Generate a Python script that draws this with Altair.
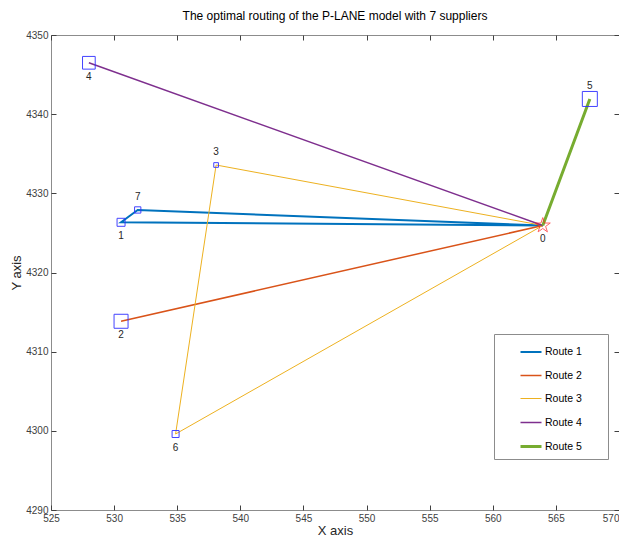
import altair as alt
import pandas as pd

# ---- data ----
node_ids = [0, 1, 2, 3, 4, 5, 6, 7]
node_x = [563.96, 530.55, 530.55, 538.08, 528.00, 567.69, 534.87, 531.87]
node_y = [4325.94, 4326.34, 4313.84, 4333.58, 4346.49, 4341.92, 4299.60, 4327.90]
supplier_demand = [8, 14, 4.7, 12.7, 15, 7, 6.3]   # suppliers 1..7 (marker size)
labels_above = [3, 5, 7]

route_names = ["Route 1", "Route 2", "Route 3", "Route 4", "Route 5"]
route_paths = [[0, 1, 7, 0], [0, 2, 0], [0, 3, 6, 0], [0, 4, 0], [0, 5, 0]]
route_colors = ["#0072BD", "#D95319", "#EDB120", "#7E2F8E", "#77AC30"]
route_widths = [2, 1.5, 1, 1.5, 3]

x_ticks = list(range(525, 571, 5))
y_ticks = list(range(4290, 4351, 10))

FONT = "Liberation Sans"
STAR = ("M0,-1L0.225,-0.309L0.951,-0.309L0.363,0.118L0.588,0.809L0,0.382"
        "L-0.588,0.809L-0.363,0.118L-0.951,-0.309L-0.225,-0.309Z")

# ---- tables ----
rows = []
for name, path in zip(route_names, route_paths):
    for step, n in enumerate(path):
        rows.append({"route": name, "step": step, "node": n,
                     "x": node_x[n], "y": node_y[n]})
routes_df = pd.DataFrame(rows)

nodes_df = pd.DataFrame({"node": node_ids, "x": node_x, "y": node_y})
nodes_df["above"] = nodes_df["node"].isin(labels_above)
suppliers_df = nodes_df[nodes_df["node"] > 0].copy()
suppliers_df["demand"] = supplier_demand
depot_df = nodes_df[nodes_df["node"] == 0]

xscale = alt.Scale(domain=[525, 570], nice=False, zero=False)
yscale = alt.Scale(domain=[4290, 4350], nice=False, zero=False)

common_axis = dict(grid=False, domain=False, offset=-5, tickSize=5, format="d",
                   tickColor="#404040", labelFont=FONT, labelFontSize=10,
                   labelColor="#404040", titleFont=FONT, titleFontSize=13,
                   titleFontWeight="normal", titleColor="#262626",
                   labelOverlap=False, labelFlush=False)

x_axis = alt.Axis(values=x_ticks, orient="bottom", title="X axis",
                  labelPadding=3, titlePadding=1,
                  labelAlign={"condition": {"test": f"datum.value >= {x_ticks[-1]}",
                                            "value": "right"},
                              "value": "center"},
                  **common_axis)
y_axis = alt.Axis(values=y_ticks, orient="left", title="Y axis",
                  labelPadding=3, titlePadding=2.5, **common_axis)
x_top = alt.Axis(values=x_ticks, orient="top", labels=False, title=None,
                 grid=False, domain=False, offset=-5, tickSize=5, tickColor="#404040")
y_right = alt.Axis(values=y_ticks, orient="right", labels=False, title=None,
                   grid=False, domain=False, offset=-5, tickSize=5, tickColor="#404040")

legend_def = alt.Legend(labelExpr="datum.label + '\u2003\u2002\u2004\u200b'")

lines = alt.Chart(routes_df).mark_line().encode(
    x=alt.X("x:Q", scale=xscale, axis=x_axis),
    y=alt.Y("y:Q", scale=yscale, axis=y_axis),
    color=alt.Color("route:N", scale=alt.Scale(domain=route_names, range=route_colors),
                    title=None, legend=legend_def),
    strokeWidth=alt.StrokeWidth("route:N",
                                scale=alt.Scale(type="ordinal", domain=route_names,
                                                range=route_widths),
                                title=None, legend=legend_def),
    detail="route:N",
    order="step:Q",
)

squares = alt.Chart(suppliers_df).mark_point(
    shape="square", filled=False, color="#3030ff", strokeWidth=1, opacity=0.9
).encode(
    x=alt.X("x:Q", scale=xscale, axis=None),
    y=alt.Y("y:Q", scale=yscale, axis=None),
    size=alt.Size("demand:Q", scale=alt.Scale(type="pow", exponent=2,
                                              domain=[0, 15], range=[0, 225]),
                  legend=None),
)

depot = alt.Chart(depot_df).mark_point(
    shape=STAR, filled=False, color="#ff2020", strokeWidth=1, size=250
).encode(
    x=alt.X("x:Q", scale=xscale, axis=x_top),
    y=alt.Y("y:Q", scale=yscale, axis=y_right),
)

text_below = alt.Chart(nodes_df).transform_filter("!datum.above").mark_text(
    font=FONT, fontSize=10, color="#262626", dy=14
).encode(
    x=alt.X("x:Q", scale=xscale, axis=None),
    y=alt.Y("y:Q", scale=yscale, axis=None),
    text="node:N",
)
text_above = alt.Chart(nodes_df).transform_filter("datum.above").mark_text(
    font=FONT, fontSize=10, color="#262626", dy=-13
).encode(
    x=alt.X("x:Q", scale=xscale, axis=None),
    y=alt.Y("y:Q", scale=yscale, axis=None),
    text="node:N",
)

chart = alt.layer(lines, squares, depot, text_below, text_above).resolve_axis(
    x="independent", y="independent"
).properties(
    width=568, height=475,
    padding={"left": 43, "top": 27, "right": 0, "bottom": 26},
    autosize=alt.AutoSizeParams(type="none"),
    title=alt.Title("The optimal routing of the P-LANE model with 7 suppliers",
                    font=FONT, fontSize=12, fontWeight="normal", color="#000000",
                    anchor="middle", offset=7),
).configure_view(
    stroke="#8c8c8c", strokeWidth=1
).configure_legend(
    orient="none", legendX=443, legendY=299, padding=6.5,
    strokeColor="#8c8c8c", fillColor="white",
    symbolType="stroke", symbolSize=441, symbolOffset=18.5,
    labelFont=FONT, labelFontSize=10.5, labelColor="#000000",
    labelOffset=2, rowPadding=6.5,
)

chart.save("out.html", embed_options={"renderer": "svg", "actions": False})
